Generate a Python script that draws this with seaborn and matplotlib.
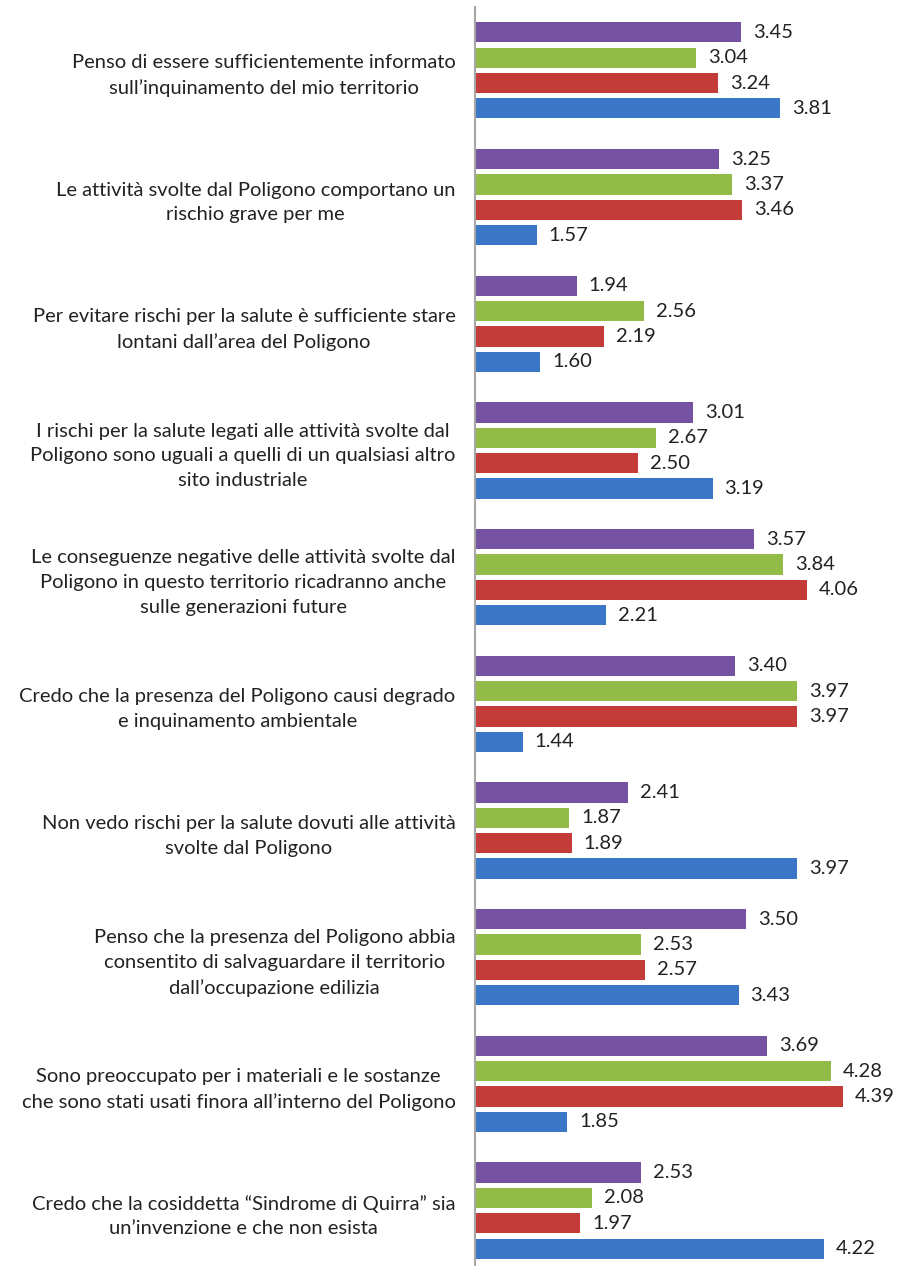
import pandas as pd
import numpy as np
import seaborn as sns
import matplotlib.pyplot as plt

domande = [
    "Penso di essere sufficientemente informato\nsull\u2019inquinamento del mio territorio",
    "Le attivit\u00e0 svolte dal Poligono comportano un\nrischio grave per me",
    "Per evitare rischi per la salute \u00e8 sufficiente stare\nlontani dall\u2019area del Poligono",
    "I rischi per la salute legati alle attivit\u00e0 svolte dal\nPoligono sono uguali a quelli di un qualsiasi altro\nsito industriale",
    "Le conseguenze negative delle attivit\u00e0 svolte dal\nPoligono in questo territorio ricadranno anche\nsulle generazioni future",
    "Credo che la presenza del Poligono causi degrado\ne inquinamento ambientale",
    "Non vedo rischi per la salute dovuti alle attivit\u00e0\nsvolte dal Poligono",
    "Penso che la presenza del Poligono abbia\nconsentito di salvaguardare il territorio\ndall\u2019occupazione edilizia",
    "Sono preoccupato per i materiali e le sostanze\nche sono stati usati finora all\u2019interno del Poligono",
    "Credo che la cosiddetta \u201cSindrome di Quirra\u201d sia\nun\u2019invenzione e che non esista",
]

serie4 = [3.45, 3.25, 1.94, 3.01, 3.57, 3.40, 2.41, 3.50, 3.69, 2.53]
serie3 = [3.04, 3.37, 2.56, 2.67, 3.84, 3.97, 1.87, 2.53, 4.28, 2.08]
serie2 = [3.24, 3.46, 2.19, 2.50, 4.06, 3.97, 1.89, 2.57, 4.39, 1.97]
serie1 = [3.81, 1.57, 1.60, 3.19, 2.21, 1.44, 3.97, 3.43, 1.85, 4.22]

nomi = ["Serie 4", "Serie 3", "Serie 2", "Serie 1"]
colori = ["#7653a2", "#93bb48", "#c43c39", "#3b77c6"]

df = pd.DataFrame({
    "domanda": domande * 4,
    "serie": np.repeat(nomi, len(domande)),
    "valore": serie4 + serie3 + serie2 + serie1,
})

sns.set_style("white")
plt.rcParams["font.family"] = ["Lato", "DejaVu Sans"]

fig = plt.figure(figsize=(8.97, 12.66), dpi=100)
ax = fig.add_axes([475 / 897, 0, 1 - 475 / 897, 1 - 7 / 1266])

sns.barplot(data=df, y="domanda", x="valore", hue="serie", hue_order=nomi,
            palette=colori, saturation=1, orient="h", width=0.8, gap=0.2,
            ax=ax, legend=False, edgecolor="none")

for c in ax.containers:
    ax.bar_label(c, fmt="%.2f", padding=8.5, fontsize=14.5, color="#222222")

ax.set_xlim(1, 1 + 422 / 108.5)
ax.set_ylim(9.437, -0.5)
ax.set_xlabel("")
ax.set_ylabel("")
ax.set_xticks([])
ax.tick_params(axis="y", length=0, pad=14, labelsize=14.5, labelcolor="#222222")
for t in ax.get_yticklabels():
    t.set_multialignment("center")
    t.set_linespacing(1.55)

for s in ["top", "right", "bottom"]:
    ax.spines[s].set_visible(False)
ax.spines["left"].set_color("#a6a6a6")
ax.spines["left"].set_linewidth(1.5)

fig.savefig("out.png", dpi=100)
